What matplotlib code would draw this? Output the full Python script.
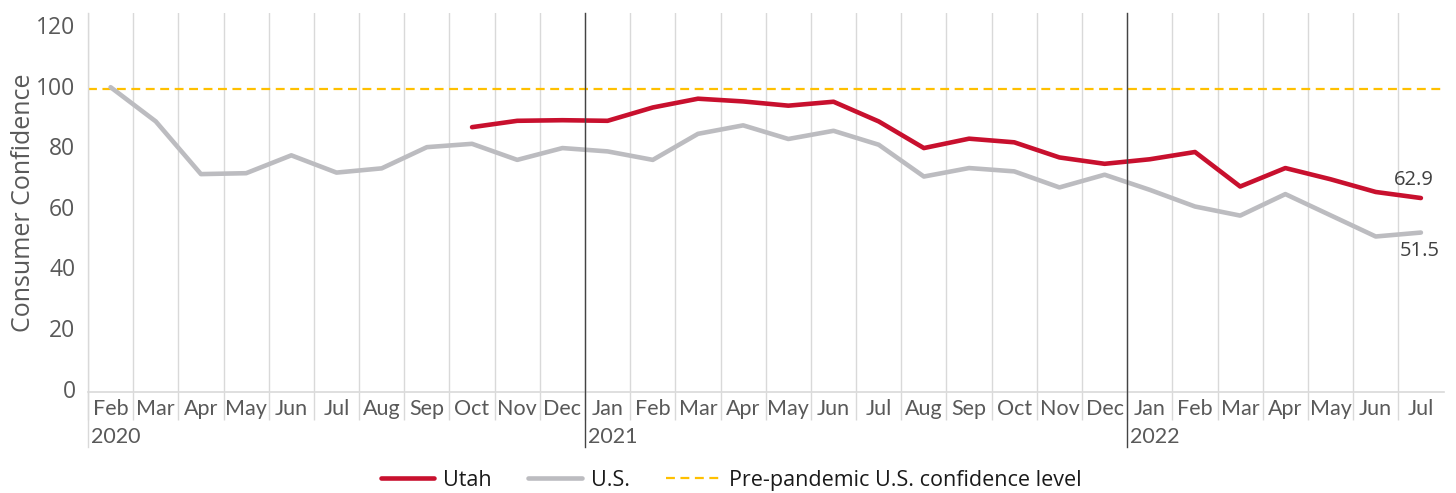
import matplotlib
matplotlib.use('Agg')
import matplotlib.pyplot as plt
import matplotlib.transforms as mtransforms

# --- data ---
months = ['Feb', 'Mar', 'Apr', 'May', 'Jun', 'Jul', 'Aug', 'Sep', 'Oct', 'Nov', 'Dec',
          'Jan', 'Feb', 'Mar', 'Apr', 'May', 'Jun', 'Jul', 'Aug', 'Sep', 'Oct', 'Nov', 'Dec',
          'Jan', 'Feb', 'Mar', 'Apr', 'May', 'Jun', 'Jul']
years = ['2020', '2021', '2022']
year_start = [0, 11, 23]

us = [99.5, 88.2, 70.8, 71.1, 77.0, 71.3, 72.7, 79.7, 80.8, 75.5, 79.4,
      78.3, 75.5, 84.1, 86.9, 82.4, 85.1, 80.5, 70.0, 72.8, 71.7, 66.4, 70.6,
      65.6, 60.1, 57.1, 64.2, 57.2, 50.2, 51.5]
utah_start = 8  # Utah series begins Oct 2020
utah = [86.3, 88.4, 88.6,
        88.4, 92.8, 95.7, 94.8, 93.4, 94.7, 88.2, 79.4, 82.5, 81.3, 76.3, 74.2,
        75.7, 78.1, 66.7, 72.8, 69.1, 64.9, 62.9]
pre_pandemic = 99.0
utah_last_label = '62.9'
us_last_label = '51.5'

RED = '#C8102E'
GRAY = '#BCBCC0'
YELLOW = '#FFC000'
GRID = '#D9D9D9'
TXT = '#595959'
SANS = ['Open Sans', 'DejaVu Sans']
NARROW = ['Lato', 'DejaVu Sans']

fig = plt.figure(figsize=(14.56, 4.93), dpi=100)
ax = fig.add_axes([88 / 1456, 1 - 392 / 493, 1355.5 / 1456, 379 / 493])

x_us = list(range(len(us)))
x_utah = list(range(utah_start, utah_start + len(utah)))

ax.axhline(pre_pandemic, color=YELLOW, lw=1.6, ls=(0, (4, 2.5)), zorder=2,
           label='Pre-pandemic U.S. confidence level')
ax.plot(x_utah, utah, color=RED, lw=3.3, solid_capstyle='round', zorder=4, label='Utah')
ax.plot(x_us, us, color=GRAY, lw=3.3, solid_capstyle='round', zorder=3, label='U.S.')

ax.annotate(utah_last_label, (x_utah[-1], utah[-1]), xytext=(-5, 13), textcoords='offset points',
            ha='center', va='center', fontsize=14.5, color='#404040', family=SANS)
ax.annotate(us_last_label, (x_us[-1], us[-1]), xytext=(-1, -13), textcoords='offset points',
            ha='center', va='center', fontsize=14.5, color='#404040', family=SANS)

ax.set_xlim(-0.5, len(months) - 0.5)
ax.set_ylim(-1.15, 124)

# month labels, separators between categories
ax.set_xticks(range(len(months)))
ax.set_xticklabels(months, family=NARROW, fontsize=15.5, color=TXT)
ax.tick_params(axis='x', which='major', length=0, pad=5)
bounds = [i - 0.5 for i in range(len(months))]
ax.set_xticks(bounds, minor=True)
ax.tick_params(axis='x', which='minor', length=20, width=1, color=GRID, direction='out')
ax.grid(which='minor', axis='x', color=GRID, lw=1, zorder=0)

ax.set_yticks(range(0, 121, 20))
ax.set_yticklabels([str(v) for v in range(0, 121, 20)], family=SANS, fontsize=16.5, color=TXT)
ax.tick_params(axis='y', length=0, pad=9)
ax.set_ylabel('Consumer Confidence', family=SANS, fontsize=18, color=TXT, labelpad=0)

for s in ['top', 'right', 'left']:
    ax.spines[s].set_visible(False)
ax.spines['bottom'].set_color(GRID)
ax.spines['bottom'].set_linewidth(1.2)

# year dividers and labels
trans = mtransforms.blended_transform_factory(ax.transData, ax.transAxes)
for yr, start in zip(years, year_start):
    xb = start - 0.5
    col = GRID if start == 0 else '#444444'
    ax.plot([xb, xb], [1, -0.145], color=col, lw=1, transform=trans, clip_on=False, zorder=5)
    ax.text(xb + 0.07, -0.12, yr, transform=trans, ha='left', va='center',
            family=NARROW, fontsize=15.5, color=TXT)

handles, labels = ax.get_legend_handles_labels()
order = [1, 2, 0]
leg = fig.legend([handles[i] for i in order], [labels[i] for i in order],
                 loc='lower center', bbox_to_anchor=(0.502, -0.035), ncol=3, frameon=False,
                 prop={'family': SANS, 'size': 15.5}, handlelength=2.5, handletextpad=0.4,
                 columnspacing=1.7, labelcolor='#1a1a1a')

fig.savefig('out.png', dpi=100)
